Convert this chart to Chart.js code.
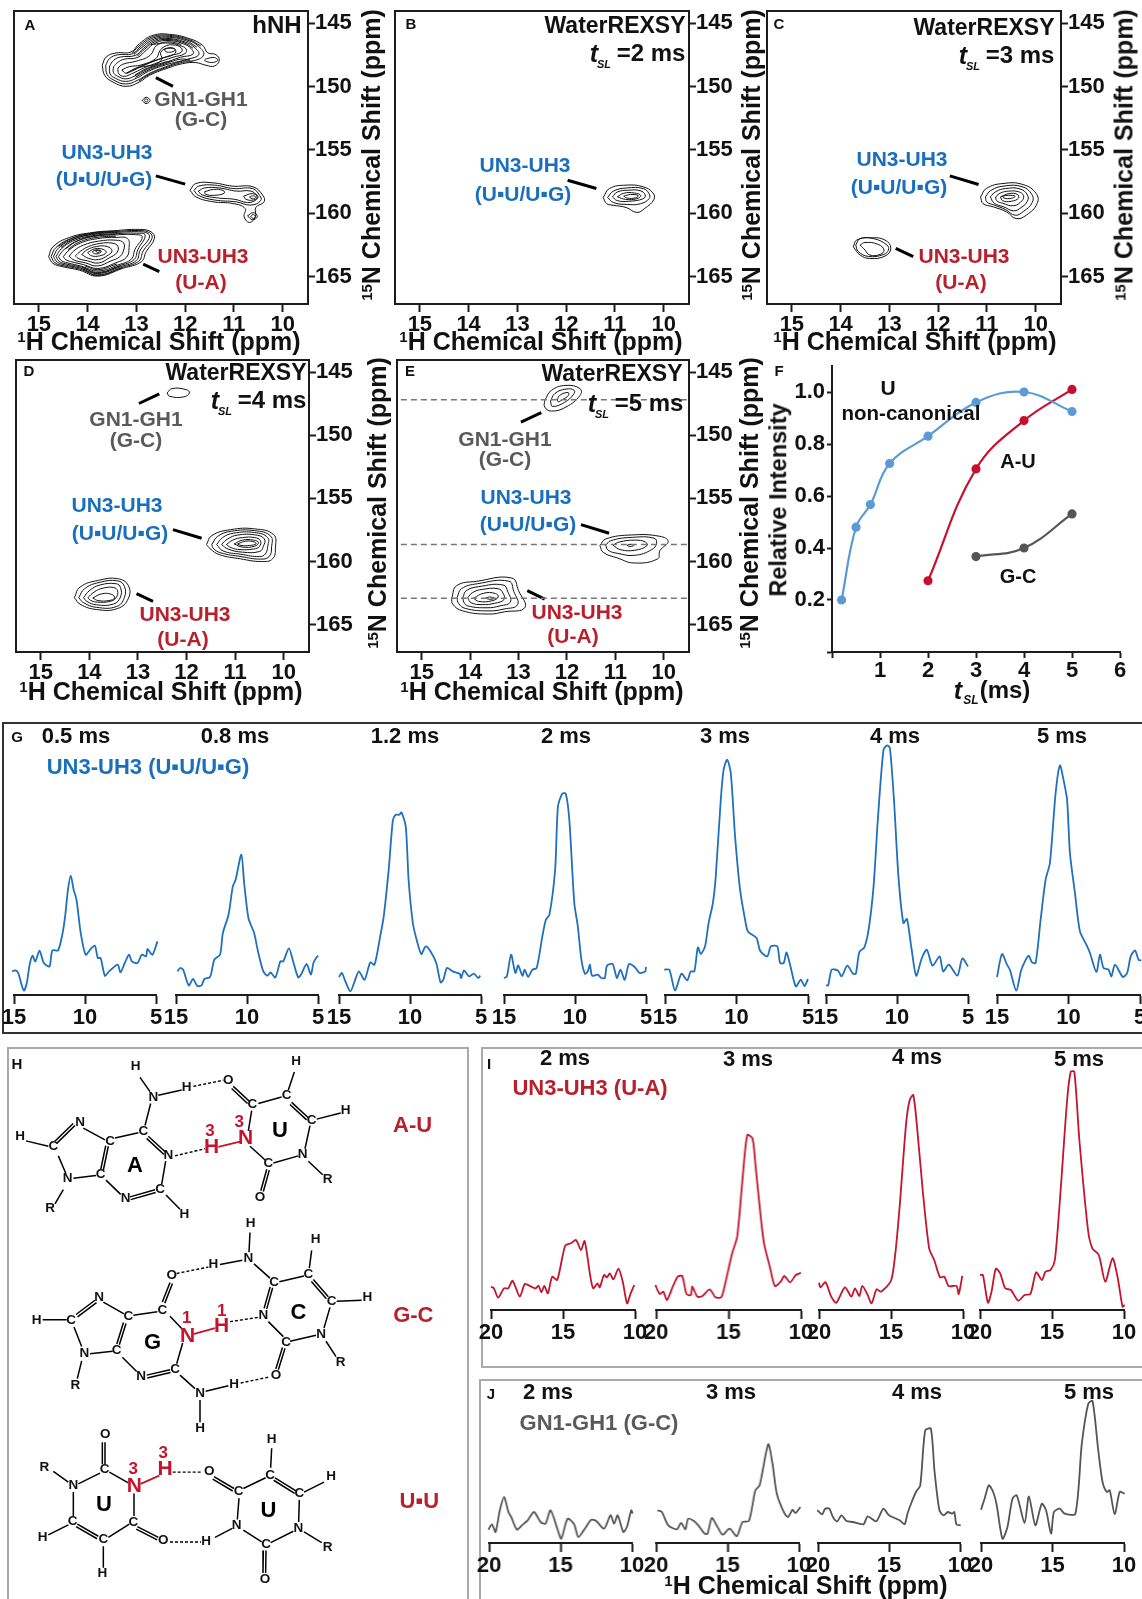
<!DOCTYPE html>
<html>
<head>
<meta charset="utf-8">
<title>WaterREXSY</title>
<script src="https://cdn.jsdelivr.net/npm/chart.js@4/dist/chart.umd.min.js"></script>
<style>
html, body { margin: 0; padding: 0; background: #fff; }
body { position: relative; width: 1142px; height: 1599px; overflow: hidden; font-family: "Liberation Sans", Arial, sans-serif; }
canvas { position: absolute; }
.t { position: absolute; white-space: nowrap; font-weight: bold; line-height: 1; color: #111; transform: translate(-50%, -50%); }
.t sup { font-size: .6em; line-height: 0; vertical-align: .5em; }
.box { position: absolute; box-sizing: border-box; }
</style>
</head>
<body>
<script>
// Panel F: relative intensity against spin-lock time
const tslBlue = [0.2, 0.5, 0.8, 1.2, 2, 3, 4, 5];
const intBlue = [0.2, 0.48, 0.567, 0.725, 0.83, 0.96, 1.0, 0.925];
const tslRed = [2, 3, 4, 5];
const intRed = [0.274, 0.704, 0.89, 1.01];
const tslGray = [3, 4, 5];
const intGray = [0.367, 0.40, 0.531];

const ppmTicksH = [15, 14, 13, 12, 11, 10];
const ppmTicksN = [145, 150, 155, 160, 165];

// Contours, [1H ppm, 15N ppm]
const contA_GC = [
  [[13.70,148.33],[13.62,147.68],[13.42,147.36],[13.11,147.28],[12.94,146.63],[12.66,145.97],[12.32,145.89],[11.91,146.23],[11.64,146.76],[11.54,147.34],[11.37,147.49],[11.30,147.94],[11.40,148.39],[11.57,148.33],[11.78,148.12],[12.05,148.20],[12.39,148.60],[12.73,149.12],[12.94,149.65],[13.21,149.99],[13.48,149.65],[13.65,149.12]],
  [[13.63,148.35],[13.55,147.8],[13.38,147.5],[13.08,147.42],[12.9,146.8],[12.64,146.15],[12.32,146.05],[11.95,146.35],[11.72,146.85],[11.62,147.5],[11.8,147.95],[12.05,148.0],[12.4,148.45],[12.75,149.0],[12.97,149.5],[13.22,149.8],[13.46,149.5],[13.6,149.05]],
  [[13.55,148.4],[13.47,147.95],[13.33,147.68],[13.02,147.55],[12.85,146.98],[12.62,146.35],[12.33,146.22],[12.0,146.5],[11.8,146.95],[11.72,147.5],[11.95,147.85],[12.4,148.3],[12.75,148.8],[13.0,149.35],[13.22,149.6],[13.43,149.35],[13.54,149.0]],
  [[13.47,148.45],[13.38,148.1],[13.25,147.85],[12.98,147.72],[12.8,147.15],[12.6,146.55],[12.33,146.38],[12.05,146.62],[11.88,147.0],[11.84,147.45],[12.1,147.7],[12.42,148.15],[12.78,148.65],[13.05,149.2],[13.22,149.4],[13.38,149.2],[13.47,148.9]],
  [[13.38,148.55],[13.28,148.25],[13.0,148.0],[12.72,147.55],[12.58,146.75],[12.33,146.58],[12.12,146.75],[11.98,147.05],[12.0,147.4],[12.25,147.7],[12.55,148.1],[12.85,148.55],[13.1,149.0],[13.25,149.2],[13.36,149.0]],
  [[13.3,148.7],[13.15,148.45],[12.9,148.3],[12.6,147.8],[12.52,147.2],[12.42,146.85],[12.25,146.72],[12.08,146.95],[12.08,147.3],[12.3,147.55],[12.6,147.95],[12.85,148.35],[13.1,148.8],[13.22,148.95]],
  [[13.2,148.95],[13.0,148.55],[12.8,148.4],[12.6,148.25],[12.48,147.85],[12.5,147.3],[12.33,146.95],[12.2,147.1],[12.22,147.45],[12.5,147.8],[12.75,148.15],[13,148.55]],
  [[12.42,147.05],[12.3,146.98],[12.2,147.1],[12.28,147.28],[12.4,147.25]],
  [[11.5,147.75],[11.4,147.72],[11.33,147.92],[11.42,148.1],[11.55,148.05],[11.6,147.9]],
  [[12.88,151.1],[12.8,150.85],[12.72,151.1],[12.8,151.35]],
  [[12.84,151.1],[12.8,150.98],[12.76,151.1],[12.8,151.22]]
];
const arcsA_GC = [
  [[13.08,147.35],[12.92,146.72],[12.65,146.06],[12.32,145.97],[11.93,146.29],[11.68,146.8]],
  [[13.05,147.48],[12.88,146.9],[12.63,146.25],[12.32,146.13],[11.97,146.42],[11.76,146.9]],
  [[12.98,147.62],[12.83,147.06],[12.61,146.45],[12.33,146.3],[12.02,146.56],[11.84,146.98]],
  [[12.7,146.7],[12.59,146.65],[12.33,146.48],[12.08,146.68]],
  [[11.85,148.05],[12.05,148.1],[12.4,148.52],[12.74,149.06],[12.95,149.58]],
  [[11.9,147.9],[12.1,147.85],[12.41,148.22],[12.76,148.72],[13.02,149.28]],
  [[12.3,148],[12.43,148.1],[12.8,148.6],[13.03,149.1]]
];
const contA_UU = [
  [[11.9,158.18],[11.78,157.65],[11.43,157.6],[11.02,157.86],[10.61,157.91],[10.41,158.57],[10.38,159.09],[10.55,159.54],[10.56,160.28],[10.68,160.72],[10.79,160.28],[10.77,159.62],[11.02,159.23],[11.43,159.09],[11.78,158.7]],
  [[11.82,158.2],[11.72,157.85],[11.4,157.78],[11,158.05],[10.62,158.05],[10.47,158.6],[10.45,159],[10.65,159.35],[10.95,159.1],[11.4,158.95],[11.72,158.6]],
  [[11.73,158.25],[11.6,158],[11.3,158],[10.95,158.25],[10.65,158.25],[10.53,158.65],[10.55,158.95],[10.72,159.15],[10.98,158.9],[11.35,158.78],[11.65,158.55]],
  [[11.6,158.3],[11.42,158.12],[11.22,158.2],[11.2,158.42],[11.4,158.58],[11.58,158.5]],
  [[10.8,158.65],[10.62,158.45],[10.5,158.7],[10.6,158.95],[10.75,158.9]],
  [[10.68,158.72],[10.6,158.62],[10.55,158.75],[10.62,158.85]],
  [[10.72,160.2],[10.6,159.95],[10.52,160.25],[10.62,160.5]],
  [[10.66,160.25],[10.6,160.1],[10.56,160.25],[10.6,160.4]]
];
const contA_UA = [
  [[14.8,163.42],[14.71,162.64],[14.37,161.9],[13.89,161.51],[13.48,161.38],[12.94,161.27],[12.7,161.46],[12.63,161.98],[12.8,163.03],[12.9,163.82],[13.28,164.34],[13.79,164.95],[14.17,164.48],[14.51,164.21],[14.71,163.95]],
  [[14.75,163.42],[14.65,162.7],[14.33,161.98],[13.87,161.58],[13.46,161.45],[12.95,161.36],[12.73,161.53],[12.68,161.98],[12.86,162.96],[12.95,163.77],[13.3,164.27],[13.79,164.85],[14.16,164.4],[14.5,164.13],[14.67,163.9]],
  [[14.7,163.42],[14.6,162.75],[14.3,162.05],[13.85,161.65],[13.45,161.52],[12.96,161.45],[12.76,161.6],[12.74,161.98],[12.92,162.9],[13.0,163.72],[13.32,164.2],[13.79,164.75],[14.15,164.32],[14.48,164.05],[14.62,163.85]],
  [[14.65,163.42],[14.54,162.8],[14.26,162.12],[13.84,161.73],[13.44,161.61],[13.0,161.57],[12.82,161.72],[12.97,162.88],[13.05,163.66],[13.34,164.12],[13.79,164.65],[14.13,164.25],[14.45,163.98],[14.58,163.8]],
  [[14.6,163.42],[14.48,162.85],[14.22,162.2],[13.82,161.8],[13.42,161.7],[13.05,161.68],[12.88,161.85],[13.03,162.85],[13.1,163.6],[13.36,164.05],[13.79,164.55],[14.12,164.18],[14.42,163.9],[14.53,163.75]],
  [[14.5,163.42],[14.38,162.9],[14.15,162.35],[13.8,162],[13.4,161.9],[13.18,162.0],[13.15,162.7],[13.2,163.45],[13.42,163.9],[13.79,164.35],[14.08,164.05],[14.35,163.8],[14.45,163.65]],
  [[14.38,163.4],[14.28,162.95],[14.08,162.5],[13.78,162.2],[13.42,162.12],[13.26,162.35],[13.27,163.0],[13.35,163.45],[13.52,163.75],[13.8,164.15],[14.05,163.9],[14.27,163.7]],
  [[14.25,163.35],[14.15,163],[13.98,162.62],[13.75,162.38],[13.5,162.35],[13.38,162.6],[13.4,163.1],[13.55,163.5],[13.78,163.92],[14.0,163.75],[14.18,163.58]],
  [[14.12,163.25],[14.02,162.9],[13.82,162.62],[13.6,162.62],[13.5,162.95],[13.58,163.3],[13.78,163.65],[13.98,163.55]],
  [[14.0,163.1],[13.85,162.8],[13.68,162.85],[13.62,163.1],[13.75,163.35],[13.92,163.35]],
  [[13.9,163.0],[13.8,162.88],[13.72,163.0],[13.78,163.18],[13.88,163.15]],
  [[13.84,162.95],[13.78,162.92],[13.74,163],[13.8,163.08]]
];
const arcsA_UA = [
  [[14.6,162.6],[14.3,161.93],[13.88,161.54],[13.47,161.41]],
  [[14.55,162.7],[14.27,162.02],[13.86,161.62],[13.45,161.49]],
  [[14.45,162.8],[14.2,162.15],[13.83,161.77],[13.43,161.66]],
  [[14.4,162.85],[14.18,162.28],[13.81,161.9],[13.42,161.8]],
  [[14.1,164.42],[13.79,164.9],[13.29,164.3]],
  [[14.1,164.28],[13.79,164.7],[13.33,164.16]],
  [[14.05,164.15],[13.79,164.45],[13.4,164.0]]
];
const contB_UU = [
  [[11.24,158.75],[11.11,158.04],[10.77,157.78],[10.42,157.91],[10.22,158.39],[10.2,158.91],[10.39,159.62],[10.55,159.93],[10.77,159.54],[11.04,159.36],[11.17,159.23]],
  [[11.15,158.75],[11.03,158.25],[10.75,158],[10.42,158.05],[10.3,158.45],[10.3,158.85],[10.48,159.25],[10.75,159.3],[11.03,159.15]],
  [[11.05,158.7],[10.95,158.32],[10.72,158.18],[10.48,158.22],[10.38,158.55],[10.42,158.85],[10.72,159.05],[10.95,159]],
  [[10.95,158.7],[10.82,158.42],[10.6,158.4],[10.47,158.6],[10.55,158.85],[10.78,158.9]],
  [[10.82,158.65],[10.68,158.52],[10.52,158.6],[10.58,158.78],[10.75,158.8]]
];
const contC_UU = [
  [[11.13,158.7],[11.01,158.04],[10.67,157.65],[10.26,157.73],[9.99,158.44],[9.97,159.23],[10.19,160.14],[10.4,160.41],[10.6,159.88],[10.87,159.49],[11.08,159.23]],
  [[11.03,158.7],[10.92,158.2],[10.65,157.85],[10.28,157.9],[10.08,158.5],[10.07,159.15],[10.25,159.85],[10.42,160.15],[10.62,159.7],[10.85,159.35],[11.0,159.1]],
  [[10.93,158.7],[10.82,158.3],[10.62,158.05],[10.32,158.08],[10.17,158.55],[10.17,159.05],[10.3,159.55],[10.45,159.8],[10.65,159.5],[10.85,159.2]],
  [[10.82,158.7],[10.72,158.4],[10.55,158.25],[10.35,158.3],[10.25,158.6],[10.28,159],[10.45,159.4],[10.68,159.2],[10.8,159]],
  [[10.72,158.7],[10.55,158.45],[10.38,158.5],[10.35,158.8],[10.5,159.05],[10.68,159]],
  [[10.68,158.65],[10.55,158.58],[10.42,158.65],[10.5,158.82],[10.65,158.8]]
];
const contC_UA = [
  [[13.74,162.64],[13.67,162.11],[13.4,161.93],[13.09,162.11],[12.97,162.77],[13.09,163.37],[13.4,163.56],[13.6,163.29]],
  [[13.69,162.5],[13.6,162],[13.32,162],[13.05,162.5],[13.02,162.9],[13.12,163.25],[13.43,163.4],[13.64,163.0]],
  [[13.6,162.5],[13.5,162.3],[13.23,162.45],[13.11,162.9],[13.19,163.24],[13.4,163.29],[13.5,162.9]]
];
const contD_GC = [
  [[12.4,146.65],[12.3,146.31],[12.01,146.39],[11.94,146.65],[12.06,146.97],[12.35,146.92]]
];
const contD_UU = [
  [[11.59,158.65],[11.48,157.94],[11.09,157.47],[10.6,157.41],[10.21,157.86],[10.17,158.86],[10.23,159.78],[10.46,159.99],[10.89,159.78],[11.33,159.44],[11.52,158.96]],
  [[11.48,158.65],[11.36,158],[11.08,157.6],[10.6,157.55],[10.27,157.98],[10.25,158.85],[10.3,159.6],[10.48,159.8],[10.88,159.6],[11.3,159.3],[11.45,158.95]],
  [[11.38,158.65],[11.26,158.1],[11.03,157.75],[10.6,157.7],[10.33,158.1],[10.33,158.8],[10.38,159.4],[10.5,159.6],[10.88,159.42],[11.25,159.15]],
  [[11.28,158.65],[11.15,158.2],[10.95,157.9],[10.6,157.88],[10.4,158.2],[10.42,158.8],[10.5,159.2],[10.85,159.25],[11.15,159.0]],
  [[11.18,158.65],[11.05,158.3],[10.85,158.1],[10.6,158.1],[10.48,158.35],[10.5,158.8],[10.62,159.0],[10.9,159.05],[11.08,158.9]],
  [[11.02,158.6],[10.85,158.3],[10.62,158.3],[10.52,158.5],[10.6,158.78],[10.85,158.85]],
  [[10.95,158.6],[10.78,158.38],[10.6,158.45],[10.57,158.6],[10.7,158.72],[10.88,158.72]]
];
const contD_UA = [
  [[14.31,162.85],[14.19,162.01],[13.81,161.48],[13.42,161.35],[13.2,161.88],[13.2,162.93],[13.42,163.71],[13.85,163.79],[14.19,163.37]],
  [[14.22,162.85],[14.1,162.15],[13.8,161.65],[13.42,161.52],[13.28,161.95],[13.28,162.85],[13.44,163.55],[13.85,163.62],[14.12,163.25]],
  [[14.12,162.85],[14.0,162.3],[13.78,161.85],[13.45,161.75],[13.36,162.05],[13.36,162.8],[13.5,163.35],[13.85,163.42],[14.05,163.15]],
  [[14.03,162.85],[13.9,162.4],[13.72,162.1],[13.5,162.05],[13.42,162.3],[13.45,162.85],[13.58,163.15],[13.85,163.2],[13.98,163.05]],
  [[13.93,162.88],[13.75,162.55],[13.55,162.58],[13.48,162.88],[13.6,163.08],[13.82,163.08]]
];
const contE_GC = [
  [[12.46,147.25],[12.32,146.45],[12.02,146.06],[11.73,146.32],[11.73,146.85],[12.02,147.77],[12.32,148.09],[12.46,147.77]],
  [[12.34,147.3],[12.25,146.7],[12.02,146.35],[11.85,146.45],[11.87,146.8],[12.05,147.4],[12.3,147.72]],
  [[12.2,147.2],[12.15,146.85],[11.98,146.62],[11.97,146.85],[12.1,147.2],[12.18,147.35]]
];
const contE_UU = [
  [[11.32,158.74],[11.2,158.21],[10.66,157.89],[10.08,158],[9.91,158.4],[10.08,159.13],[10.13,159.79],[10.61,160.11],[10.95,159.72],[11.25,159.27]],
  [[11.2,158.72],[11.1,158.35],[10.65,158.08],[10.2,158.15],[10.15,158.55],[10.25,159.05],[10.6,159.5],[10.95,159.35],[11.15,159.1]],
  [[11.05,158.7],[10.92,158.45],[10.6,158.3],[10.38,158.45],[10.35,158.75],[10.6,159.1],[10.9,159.05]],
  [[10.76,158.72],[10.7,158.63],[10.62,158.72],[10.7,158.8]]
];
const contE_UA = [
  [[14.38,162.89],[14.28,161.91],[13.87,161.56],[13.14,161.3],[13,162.3],[12.87,163.63],[13.29,163.97],[13.63,164.15],[14.16,163.89],[14.36,163.36]],
  [[14.27,162.85],[14.18,162.15],[13.85,161.75],[13.2,161.55],[13.1,162.35],[13.02,163.4],[13.3,163.75],[13.63,163.9],[14.1,163.7],[14.24,163.3]],
  [[14.15,162.85],[14.08,162.3],[13.82,161.98],[13.32,161.85],[13.22,162.4],[13.17,163.2],[13.38,163.5],[13.65,163.65],[14.05,163.5],[14.13,163.2]],
  [[14.05,162.85],[13.95,162.45],[13.75,162.2],[13.42,162.15],[13.32,162.5],[13.3,163],[13.5,163.3],[13.75,163.4],[13.98,163.25]],
  [[13.93,162.9],[13.72,162.5],[13.48,162.52],[13.42,162.8],[13.55,163.1],[13.82,163.15]],
  [[13.68,162.88],[13.6,162.8],[13.5,162.9],[13.6,162.98]]
];

// Leader lines, [1H, 15N, 1H, 15N]
const leadersA = [[12.6,149.3,12.25,149.99],[12.6,157.05,12.0,157.7],[12.86,164,12.53,164.6]];
const leadersB = [[11.97,157.39,11.38,158.04]];
const leadersC = [[11.76,157.05,11.17,157.73],[12.87,162.77,12.51,163.42]];
const leadersD = [[12.98,147.49,12.56,146.73],[12.28,157.47,11.69,158.15],[13.03,162.53,12.69,163.14]];
const leadersE = [[12.95,148.96,12.53,148.22],[11.71,157.07,11.13,157.76],[12.82,162.3,12.46,162.97]];
const dashedE = [147.2, 158.65, 162.9];

// Panel G spectra: ppm, intensity
const g05Ppm = [15.13,14.9,14.7,14.5,14.3,14.1,13.9,13.7,13.5,13.2,12.9,12.5,12.3,11.9,11.6,11.4,11.2,11.0,10.8,10.6,10.3,9.95,9.6,9.3,9.1,8.9,8.6,8.3,7.7,7.5,7.2,6.9,6.7,6.3,6.0,5.7,5.6,5.25,4.9];
const g05Int = [23.6,24.6,22,12,4.3,12,30.3,39.3,33.6,44.3,32,28.6,44.6,44.6,60.3,78.6,105.3,119.3,105.3,95.3,62,40.3,46,49.3,37,37,19.3,23.6,30.3,22.6,32,40.3,33.6,32,40.3,38.6,46,40.3,53.6];
const g08Ppm = [14.9,14.7,14.5,14.1,13.8,13.5,13.2,13,12.6,12.3,11.9,11.7,11.3,11,10.8,10.4,10.2,9.9,9.5,9.2,8.85,8.55,8.35,8,7.65,7.45,7.05,6.75,6.4,6.2,5.8,5.5,5.3,5.0];
const g08Int = [23.6,27,25.3,9.6,16,9,9.6,16,18,35.3,40.3,62,80.3,108.6,115.3,140.3,112,77,62,42,23.6,19.3,22.6,17.6,33.6,33.6,46.6,33.6,17.6,20.3,31,20.3,33,39.6];
const g12Ppm = [15,14.8,14.55,14.2,13.9,13.6,13.2,12.8,12.5,12.1,11.85,11.5,11.2,11,10.75,10.6,10.3,10.1,9.8,9.5,9.2,8.9,8.55,8.15,7.85,7.65,7.4,7,6.5,6.4,6.2,5.85,5.5,5.2,5.05];
const g12Int = [18,22,13.6,3.6,13.6,23.6,15.3,32.6,30.3,58.6,78.6,125.3,175.3,180.3,180.3,182.6,168.6,115.3,72,53.6,41,48.6,43.6,32,12.6,15.3,27,23.6,21.3,17,24.6,18.6,21.3,17,19.3];
const g2Ppm = [15,14.8,14.5,14.2,14,13.7,13.55,13.3,13,12.7,12.3,12.05,11.8,11.4,11.2,10.9,10.65,10.4,10.05,9.8,9.55,9.3,9.1,8.95,8.8,8.4,8.15,7.9,7.75,7.35,7.05,6.8,6.5,6.2,5.8,5.45,5.05,5];
const g2Int = [17,18.6,40.3,22,29.6,19.3,25.3,18,25.3,27,58.6,75.3,80.3,125.3,188.6,201.3,201.3,175.3,92,68.6,35.3,21.3,23.6,30.3,19.3,20.3,17,17,29.3,31,17,25.3,15.3,31,28,22,23.6,28];
const g3Ppm = [15.05,14.7,14.3,13.85,13.45,13.2,12.95,12.7,12.5,12.2,11.95,11.65,11.45,11.1,10.9,10.65,10.4,10.1,9.75,9.4,9.2,8.6,8.35,7.85,7.6,7.15,6.95,6.7,6.5,6.2,5.85,5.5,5.25,5];
const g3Int = [25.3,25.3,4.6,21.3,14.6,23.6,23.6,47.6,41,48.6,72,92,118.6,195.3,225.3,235.3,222,158.6,105.3,75.3,63.6,57,44.3,38.6,48.6,48.6,32,32,42.6,27,8.6,15.3,9,16];
const g4Ppm = [15,14.85,14.6,14.15,13.9,13.5,13.1,12.9,12.65,12.3,12,11.65,11.35,10.95,10.7,10.5,10.2,9.9,9.55,9.3,9,8.65,8.25,7.9,7.5,7,6.75,6.35,5.75,5.4,5];
const g4Int = [9.6,9.6,25.3,24.3,18.6,29.3,21.3,21.3,43,47.6,65.3,108.6,175.3,245.3,249.6,247,192,118.6,72,76,48.6,19.3,37,45.3,29.3,38.6,23.6,30.3,19.3,36.6,28.6];
const g5Ppm = [15,14.65,14.3,14.1,13.65,13.3,12.8,12.55,12.3,11.95,11.6,11.3,10.9,10.6,10.35,10.1,9.9,9.55,9.2,8.75,8.5,8.05,7.8,7.55,7.2,7,6.75,6.2,5.9,5.65,5.35,5.1,4.9];
const g5Int = [18,41,30.3,25.3,4.3,25.3,39.3,32.6,32,75.3,115.3,132,202,229.6,215.3,195.3,142,102,63.6,50.3,42,23,40.3,27,25.3,18.6,30.3,18,22,38.6,44.6,35.3,34.6];

// Panel I spectra
const i2Ppm = [20,19.8,19.5,19.1,18.8,18.5,18,17.65,17.2,16.9,16.7,16.5,16.3,16.05,15.75,15.4,14.85,14.45,14.1,13.75,13.5,13.1,12.9,12.6,12.45,12.15,11.95,11.75,11.5,11.15,10.85,10.55,10.3,10.05];
const i2Int = [23.3,21.7,12.3,21.7,21.7,29.3,13.3,26,23.3,21.7,24.3,17.7,24,16.7,33.3,30,64.3,66.7,70,60,69,33.3,21.7,26.7,22.7,35,32.7,36.7,30.7,41.3,28.3,6.7,16.7,25];
const i3Ppm = [20.05,19.75,19.5,19.25,18.85,18.5,18.2,17.9,17.6,17.5,17.15,16.8,16.3,15.9,15.5,15.2,14.75,14.4,14,13.7,13.35,13.15,12.85,12.55,12.15,11.8,11.4,11.15,10.75,10.35,10];
const i3Int = [25,16,18.3,10,23.3,33.3,34,16,15,23.3,13.3,14,20.7,12.7,12.7,28.3,56.7,73.3,136.7,175,171.7,146.7,103.3,66.7,43.3,24,28.3,34,27.7,35,37.3];
const i4Ppm = [20,19.9,19.55,19.15,18.8,18.2,17.75,17.5,17.2,17,16.65,16.35,16,15.7,15,14.7,14.4,13.95,13.7,13.45,13.15,12.8,12.35,12,11.6,11.3,11,10.45,10.3,10.05];
const i4Int = [27.3,22.7,27.7,13.3,7.3,22.7,13.3,21.7,14,24,16,6.7,20.7,18.3,29.3,56.7,103.3,186.7,210,215,176.7,120,61.7,50,32.7,33.3,24,24,16,34];
const i5Ppm = [20,19.8,19.45,19.2,18.9,18.6,18.25,17.85,17.35,16.9,16.5,16.1,15.7,15.45,15.1,14.8,14.4,13.95,13.7,13.45,13.1,12.5,12.2,11.75,11.3,10.8,10.45,10.1,9.95];
const i5Int = [35,35,7.3,18.3,41.3,36.7,21.7,20,9.3,15,16,37.7,30,38.3,40,50,120,210,238.3,238.3,170,80,61.7,55,28.3,51.7,33.3,3.3,5];

// Panel J spectra
const j2Ppm = [20.05,19.8,19.55,19.25,18.95,18.65,18.45,18.05,17.7,17.3,16.85,16.4,16.05,15.7,15.2,14.95,14.5,14.05,13.75,13.25,12.85,12.5,11.95,11.5,11.25,11,10.6,10.35,10.05,9.95];
const j2Int = [13.3,18.7,11,32.7,46,31,26,13.3,17.7,22.7,31,21,19.3,32.7,13.3,4.3,24.3,18.7,6,15.3,23.3,22,14.3,27.7,19.3,27.7,11,16,32.7,29.3];
const j3Ppm = [19.9,19.6,19.15,18.55,18.25,17.95,17.75,17.35,17.05,16.6,16.4,16.1,15.7,15.35,14.85,14.35,13.95,13.5,13.05,12.75,12.15,11.85,11.55,11,10.75,10.45,10.25,9.9];
const j3Int = [32.7,31,17.7,13.7,20,13.7,24.3,22,17.7,9.3,9.3,25,16,8.3,14.3,6.7,21,22,52.7,57.7,98.7,79.3,49.3,29.3,26,33.3,30,36];
const j4Ppm = [20.05,19.7,19.5,19.2,18.95,18.65,18.35,18,17.55,16.8,16.5,15.9,15.4,15,14.25,13.9,13.7,13.4,13.1,12.8,12.45,12.05,11.8,11.45,11.15,10.85,10.55,10.4,10.25,9.95];
const j4Int = [32.7,28.7,34.3,34.3,26,21.7,27.7,22,21,18.7,26.7,21.7,34.3,27.7,22.7,18.7,29.3,41,51,57.7,112.7,114.3,72.7,32.7,27.7,31,29.3,31,18.7,17.7];
const j5Ppm = [20,19.75,19.45,19.15,18.9,18.5,18.15,17.8,17.5,16.95,16.65,16.2,15.75,15.45,15.1,14.9,14.5,14.15,13.4,12.95,12.5,12.2,11.8,11.5,11.2,11,10.65,10.3,9.95];
const j5Int = [33.3,44.3,57.7,51,37.7,4.3,16,44.3,47.7,20,46.7,17.7,39.3,32.7,9.3,31,34.3,29.3,29.3,99.3,139.3,142,92.7,61,51,52.7,28.7,51,49.3];

// Panel H base pair diagrams, drawn on a 1440 x 1568 grid
const bonds = [
  [420,105,450,145],[475,155,545,140],[775,178,845,160],[865,140,883,90],[950,222,1022,205],[930,240,915,305],[755,198,745,255],[750,298,797,338],[820,345,895,325],[925,340,968,378],
  [452,178,435,240],[345,275,415,260],[250,247,315,280],[78,283,145,298],[175,325,198,375],[220,388,288,380],[318,393,362,433],[497,340,485,405],[498,435,540,475],[190,420,165,460],
  [750,540,747,595],[935,590,928,640],[660,630,727,618],[762,628,810,668],[838,678,912,662],[1010,733,1085,730],[990,750,972,808],[805,790,850,832],[870,845,948,828],[978,845,1008,888],
  [400,772,472,762],[510,775,548,812],[548,850,530,908],[310,735,372,768],[128,785,200,785],[222,805,245,860],[270,880,338,873],[367,890,410,930],[540,940,585,978],[617,985,685,970],[600,1010,600,1072],[245,900,232,950],
  [160,1210,205,1240],[235,1245,300,1215],[328,1212,385,1242],[730,1258,797,1228],[812,1200,815,1145],[912,1268,972,1240],[898,1290,896,1352],[717,1285,712,1345],[730,1375,785,1408],[812,1410,880,1378],[912,1380,965,1410],[645,1395,697,1370],[402,1272,402,1335],[220,1268,220,1335],[325,1395,388,1358],[145,1388,205,1360],[310,1420,310,1480]
];
const doubleBonds = [
  [700,130,748,172],[875,175,925,218],[808,365,790,425],[225,240,170,290],[325,298,310,365],[390,440,465,420],[445,270,497,315],
  [940,672,985,720],[818,695,800,755],[855,865,835,925],[487,735,510,680],[228,770,285,730],[378,795,358,855],[440,940,510,925],
  [315,1128,315,1190],[642,1225,702,1258],[825,1228,888,1265],[798,1432,797,1495],[412,1365,475,1395],[232,1358,295,1392]
];
const hBonds = [
  [580,130,670,113],[525,325,615,305],[530,655,625,637],[690,790,775,778],[722,962,810,945],[518,1212,605,1212],[510,1408,603,1408]
];
const redBonds = [[655,300,720,285],[580,825,645,808],[422,1245,478,1222]];
const atoms = [
  ['H',407,75],['N',460,160],['H',560,133],['O',685,112],['H',888,60],['C',860,155],['C',757,180],['C',935,225],['H',1037,198],['C',430,257],['N',240,232],['C',330,283],['C',160,298],['H',60,270],['N',505,323],['C',302,378],['N',203,388],['R',150,472],['N',377,445],['C',480,420],['H',553,488],['C',805,347],['N',908,320],['R',983,390],['O',780,440],
  ['H',752,515],['H',947,560],['N',745,613],['H',640,630],['O',515,660],['C',822,680],['C',925,658],['C',995,733],['H',1102,722],['N',297,722],['C',487,757],['C',385,775],['C',213,785],['H',110,785],['N',790,772],['C',858,847],['N',963,825],['R',1022,905],['N',253,878],['C',350,870],['R',226,968],['N',423,942],['C',525,925],['O',828,940],['H',702,965],['N',600,990],['H',600,1088],
  ['O',316,1105],['C',314,1203],['R',133,1198],['N',220,1250],['O',628,1210],['C',716,1265],['C',810,1220],['H',815,1120],['C',898,1272],['H',993,1225],['C',218,1350],['C',310,1400],['C',400,1352],['H',128,1395],['H',307,1497],['O',490,1403],['H',618,1405],['N',710,1360],['C',798,1415],['N',895,1370],['R',983,1422],['O',795,1512]
];
const bases = [['U',840,255],['A',405,352],['C',895,765],['G',458,850],['U',312,1305],['U',805,1320]];
const redAtoms = [['H',635,300],['N',737,275],['N',563,830],['H',665,803],['N',403,1252],['H',495,1205]];
const redDigits = [['3',630,257],['3',718,232],['1',560,780],['1',665,760],['3',400,1205],['3',490,1158]];
const pairNames = [['A-U',1238,240],['G-C',1240,773],['U\u25AAU',1258,1295]];

const INK = '#1c1c1c';
const BLUE = '#1a6fbd';
const RED = '#b8202c';
const GRAY = '#5a5a5a';
const TRACE_BLUE = '#1f70bd';
const TRACE_RED = '#c4142e';
const TRACE_GRAY = '#555555';
const FONT = '"Liberation Sans", Arial, sans-serif';

Chart.defaults.font.family = FONT;
Chart.defaults.animation = false;
Chart.defaults.plugins.legend.display = false;
Chart.defaults.plugins.tooltip.enabled = false;

function addCanvas(left, top, w, h) {
    const c = document.createElement('canvas');
    c.width = w;
    c.height = h;
    c.style.left = left + 'px';
    c.style.top = top + 'px';
    c.style.width = w + 'px';
    c.style.height = h + 'px';
    document.body.appendChild(c);
    return c;
}

function addText(html, cx, cy, size, color, opts) {
    opts = opts || {};
    const d = document.createElement('div');
    d.className = 't';
    d.innerHTML = html;
    d.style.left = cx + 'px';
    d.style.top = cy + 'px';
    d.style.fontSize = size + 'px';
    if (color) d.style.color = color;
    if (opts.italic) d.style.fontStyle = 'italic';
    let tr = 'translate(-50%, -50%)';
    if (opts.rotate) tr += ' rotate(' + opts.rotate + 'deg)';
    d.style.transform = tr;
    document.body.appendChild(d);
}

function addBox(left, top, w, h, color) {
    const d = document.createElement('div');
    d.className = 'box';
    d.style.cssText = 'left:' + left + 'px;top:' + top + 'px;width:' + w + 'px;height:' + h + 'px;border:2px solid ' + color;
    document.body.appendChild(d);
}

const framePlugin = {
    id: 'frame',
    afterDatasetsDraw(chart) {
        const a = chart.chartArea, ctx = chart.ctx;
        ctx.save();
        ctx.strokeStyle = INK;
        ctx.lineWidth = 2;
        ctx.strokeRect(a.left, a.top, a.right - a.left, a.bottom - a.top);
        ctx.restore();
    }
};

function contourSets(list, closed) {
    return list.map(c => ({
        data: (closed ? c.concat([c[0]]) : c).map(p => ({ x: p[0], y: p[1] })),
        borderColor: '#111',
        borderWidth: 1,
        pointRadius: 0,
        tension: 0.45,
        clip: false
    }));
}

function segmentSets(list, width) {
    return list.map(s => ({
        data: [{ x: s[0], y: s[1] }, { x: s[2], y: s[3] }],
        borderColor: '#000',
        borderWidth: width,
        pointRadius: 0
    }));
}

// one 2D spectrum, frame given in page pixels
function hsqc(l, t, r, b, contours, leaders, dashed, arcs) {
    const padL = 3, padT = 15, axisR = 52, axisB = 36;
    const canvas = addCanvas(l - padL, t - padT, r - l + padL + axisR, b - t + padT + axisB);
    let sets = [];
    (dashed || []).forEach(y => {
        sets.push({
            data: [{ x: 15.43, y: y }, { x: 9.48, y: y }],
            borderColor: '#777', borderWidth: 1.6, borderDash: [6, 4], pointRadius: 0
        });
    });
    contours.forEach(c => { sets = sets.concat(contourSets(c, true)); });
    (arcs || []).forEach(c => { sets = sets.concat(contourSets(c, false)); });
    sets = sets.concat(segmentSets(leaders, 3));
    new Chart(canvas, {
        type: 'line',
        data: { datasets: sets },
        options: {
            responsive: false,
            layout: { padding: { left: padL, top: padT, right: 0, bottom: 0 } },
            scales: {
                x: {
                    type: 'linear', min: 9.48, max: 15.51, reverse: true,
                    afterBuildTicks: s => { s.ticks = ppmTicksH.map(v => ({ value: v })); },
                    afterFit: s => { s.height = axisB; },
                    grid: { drawOnChartArea: false, tickLength: 8, tickColor: INK, tickWidth: 2 },
                    border: { color: INK, width: 2 },
                    ticks: { color: '#111', font: { size: 22, weight: 'bold' }, maxRotation: 0, autoSkip: false, padding: 0, callback: v => String(v) }
                },
                y: {
                    type: 'linear', position: 'right', min: 144.05, max: 167.15, reverse: true,
                    afterBuildTicks: s => { s.ticks = ppmTicksN.map(v => ({ value: v })); },
                    afterFit: s => { s.width = axisR; },
                    grid: { drawOnChartArea: false, tickLength: 7, tickColor: INK, tickWidth: 2 },
                    border: { color: INK, width: 2 },
                    ticks: { color: '#111', font: { size: 22, weight: 'bold' }, autoSkip: false, padding: 0, callback: v => String(v) }
                }
            }
        },
        plugins: [framePlugin]
    });
}

// one 1D trace with its own small bracket axis
function spectrum(x0, x1, axisY, from, to, ppm, intensity, color) {
    const pad = 20, top = 272, axisB = 42;
    const canvas = addCanvas(x0 - pad, axisY - top, x1 - x0 + pad * 2, top + axisB);
    new Chart(canvas, {
        type: 'line',
        data: { datasets: [{
            data: ppm.map((p, i) => ({ x: p, y: intensity[i] })),
            borderColor: color, borderWidth: 1.8, pointRadius: 0, tension: 0.25, clip: false
        }] },
        options: {
            responsive: false,
            layout: { padding: { left: pad, right: pad, top: 2, bottom: 0 } },
            scales: {
                x: {
                    type: 'linear', min: to, max: from, reverse: true,
                    afterBuildTicks: s => { s.ticks = [from, (from + to) / 2, to].map(v => ({ value: v })); },
                    afterFit: s => { s.height = axisB; },
                    grid: { drawOnChartArea: false, tickLength: 9, tickColor: INK, tickWidth: 2 },
                    border: { color: INK, width: 2 },
                    ticks: { color: '#111', font: { size: 22, weight: 'bold' }, maxRotation: 0, autoSkip: false, padding: 1, callback: v => String(v) }
                },
                y: { type: 'linear', display: false, min: 0, max: top - 2 }
            }
        }
    });
}

function relativeIntensity() {
    const canvas = addCanvas(780, 350, 358, 340);
    const series = (xs, ys, color) => ({
        data: xs.map((x, i) => ({ x: x, y: ys[i] })),
        borderColor: color, backgroundColor: color, borderWidth: 2.2,
        pointRadius: 3.5, tension: 0.4, clip: false
    });
    new Chart(canvas, {
        type: 'line',
        data: { datasets: [
            series(tslBlue, intBlue, '#5b9bd5'),
            series(tslRed, intRed, '#c5112f'),
            series(tslGray, intGray, '#555555')
        ] },
        options: {
            responsive: false,
            layout: { padding: { top: 16, right: 18, left: 0, bottom: 0 } },
            scales: {
                x: {
                    type: 'linear', min: 0, max: 6,
                    afterBuildTicks: s => { s.ticks = [0, 1, 2, 3, 4, 5, 6].map(v => ({ value: v })); },
                    afterFit: s => { s.height = 38; },
                    grid: { drawOnChartArea: false, tickLength: 6, tickColor: INK, tickWidth: 2 },
                    border: { color: INK, width: 2 },
                    ticks: { color: '#111', font: { size: 22, weight: 'bold' }, maxRotation: 0, autoSkip: false, padding: 0, callback: v => v === 0 ? '' : String(v) }
                },
                y: {
                    type: 'linear', min: 0, max: 1.1,
                    afterBuildTicks: s => { s.ticks = [0, 0.2, 0.4, 0.6, 0.8, 1].map(v => ({ value: v })); },
                    afterFit: s => { s.width = 52; },
                    grid: { drawOnChartArea: false, tickLength: 5, tickColor: INK, tickWidth: 2 },
                    border: { color: INK, width: 2 },
                    ticks: { color: '#111', font: { size: 22, weight: 'bold' }, autoSkip: false, padding: 2, callback: v => v === 0 ? '' : v.toFixed(1) }
                }
            }
        }
    });
}

function strokes(list) {
    const out = [];
    list.forEach(s => {
        out.push({ x: s[0], y: s[1] }, { x: s[2], y: s[3] }, { x: s[2], y: null });
    });
    return out;
}

// second stroke of a double bond, sitting alongside the first one
function doubled(list) {
    return list.map(s => {
        const dx = s[2] - s[0], dy = s[3] - s[1], len = Math.hypot(dx, dy);
        return [s[0] - dy / len * 8, s[1] + dx / len * 8, s[2] - dy / len * 8, s[3] + dx / len * 8];
    });
}

const diagramText = {
    id: 'diagramText',
    afterDatasetsDraw(chart) {
        const ctx = chart.ctx, sx = chart.scales.x, sy = chart.scales.y;
        const put = (list, font, color) => {
            ctx.font = font;
            ctx.fillStyle = color;
            list.forEach(a => ctx.fillText(a[0], sx.getPixelForValue(a[1]), sy.getPixelForValue(a[2])));
        };
        ctx.save();
        ctx.textAlign = 'center';
        ctx.textBaseline = 'middle';
        put(atoms, 'bold 13.5px ' + FONT, '#111');
        put(bases, 'bold 22px ' + FONT, '#000');
        put(redAtoms, 'bold 21px ' + FONT, '#c4142e');
        put(redDigits, 'bold 17px ' + FONT, '#c4142e');
        put(pairNames, 'bold 22px ' + FONT, RED);
        ctx.restore();
    }
};

function basePairs() {
    const canvas = addCanvas(0, 1040, 480, 559);
    const line = (data, color, width, dash) => ({
        data: data, borderColor: color, borderWidth: width, borderDash: dash || [], pointRadius: 0, spanGaps: false
    });
    new Chart(canvas, {
        type: 'line',
        data: { datasets: [
            line(strokes(bonds), '#000', 1.5),
            line(strokes(doubleBonds), '#000', 1.5),
            line(strokes(doubled(doubleBonds)), '#000', 1.5),
            line(strokes(hBonds), '#000', 1.4, [3, 2]),
            line(strokes(redBonds), '#c4142e', 1.8)
        ] },
        options: {
            responsive: false,
            layout: { padding: 0 },
            scales: {
                x: { type: 'linear', display: false, min: 0, max: 1440 },
                y: { type: 'linear', display: false, min: 0, max: 1568, reverse: true }
            }
        },
        plugins: [diagramText]
    });
}

// frames around the lower panels
addBox(2, 722, 1160, 312, '#333');
addBox(7, 1047, 462, 570, '#aaa');
addBox(481, 1047, 680, 321, '#aaa');
addBox(479, 1379, 680, 240, '#aaa');

hsqc(14, 11, 308, 304, [contA_GC, contA_UU, contA_UA], leadersA, null, [arcsA_GC, arcsA_UA]);
hsqc(395, 11, 689, 304, [contB_UU], leadersB);
hsqc(767, 11, 1061, 304, [contC_UU, contC_UA], leadersC);
hsqc(16, 360, 309, 652, [contD_GC, contD_UU, contD_UA], leadersD);
hsqc(397, 360, 689, 652, [contE_GC, contE_UU, contE_UA], leadersE, dashedE);

relativeIntensity();

spectrum(13.8, 156.3, 995.3, 15, 5, g05Ppm, g05Int, TRACE_BLUE);
spectrum(176, 318.4, 995.3, 15, 5, g08Ppm, g08Int, TRACE_BLUE);
spectrum(338.8, 481.3, 995.3, 15, 5, g12Ppm, g12Int, TRACE_BLUE);
spectrum(503.5, 645.5, 995.3, 15, 5, g2Ppm, g2Int, TRACE_BLUE);
spectrum(664.9, 807.9, 995.3, 15, 5, g3Ppm, g3Int, TRACE_BLUE);
spectrum(826, 968.4, 995.3, 15, 5, g4Ppm, g4Int, TRACE_BLUE);
spectrum(996.5, 1140, 995.3, 15, 5, g5Ppm, g5Int, TRACE_BLUE);

spectrum(490.7, 635, 1310, 20, 10, i2Ppm, i2Int, TRACE_RED);
spectrum(656.3, 801, 1310, 20, 10, i3Ppm, i3Int, TRACE_RED);
spectrum(818.5, 963, 1310, 20, 10, i4Ppm, i4Int, TRACE_RED);
spectrum(980, 1124, 1310, 20, 10, i5Ppm, i5Int, TRACE_RED);

spectrum(489.4, 632, 1542.7, 20, 10, j2Ppm, j2Int, TRACE_GRAY);
spectrum(656.3, 799, 1542.7, 20, 10, j3Ppm, j3Int, TRACE_GRAY);
spectrum(817.7, 960.4, 1542.7, 20, 10, j4Ppm, j4Int, TRACE_GRAY);
spectrum(980.7, 1124, 1542.7, 20, 10, j5Ppm, j5Int, TRACE_GRAY);

basePairs();

// labels
const H_TITLE = '<sup>1</sup>H Chemical Shift (ppm)';
const N_TITLE = '<sup>15</sup>N Chemical Shift (ppm)';
const UU = '(U\u25AAU/U\u25AAG)';

function tsl(x, y, rest) {
    addText('t', x, y, 25, '#111', { italic: true });
    addText('SL', x + 10, y + 11, 11, '#111', { italic: true });
    addText(rest, x + 57, y, 24, '#111');
}

[[159, 341], [541, 341], [915, 341], [161, 691], [542, 691], [806, 1585]].forEach(p => addText(H_TITLE, p[0], p[1], 25));
[[371, 155], [751, 155], [1124, 155], [377, 503], [749, 503]].forEach(p => addText(N_TITLE, p[0], p[1], 25, '#111', { rotate: -90 }));

const letters = [['A', 30, 24], ['B', 411, 23], ['C', 779, 23], ['D', 29, 370], ['E', 410, 370], ['F', 779, 370], ['G', 17, 736], ['H', 17, 1063], ['I', 489, 1063], ['J', 491, 1393]];
letters.forEach(p => addText(p[0], p[1], p[2], 15));

addText('hNH', 277, 25, 24);
addText('WaterREXSY', 615, 25, 23);
addText('WaterREXSY', 984, 27, 23);
addText('WaterREXSY', 236, 372, 23);
addText('WaterREXSY', 612, 373, 23);
tsl(594, 53, '=2 ms');
tsl(963, 55, '=3 ms');
tsl(215, 400, '=4 ms');
tsl(592, 403, '=5 ms');

addText('GN1-GH1', 201, 98, 21, GRAY);
addText('(G-C)', 201, 118, 21, GRAY);
addText('UN3-UH3', 107, 151, 21, BLUE);
addText(UU, 104, 178, 21, BLUE);
addText('UN3-UH3', 203, 255, 21, RED);
addText('(U-A)', 201, 281, 21, RED);

addText('UN3-UH3', 525, 164, 21, BLUE);
addText(UU, 523, 193, 21, BLUE);

addText('UN3-UH3', 902, 158, 21, BLUE);
addText(UU, 899, 186, 21, BLUE);
addText('UN3-UH3', 964, 255, 21, RED);
addText('(U-A)', 961, 281, 21, RED);

addText('GN1-GH1', 136, 418, 21, GRAY);
addText('(G-C)', 136, 439, 21, GRAY);
addText('UN3-UH3', 117, 504, 21, BLUE);
addText(UU, 120, 532, 21, BLUE);
addText('UN3-UH3', 185, 613, 21, RED);
addText('(U-A)', 183, 638, 21, RED);

addText('GN1-GH1', 505, 438, 21, GRAY);
addText('(G-C)', 505, 458, 21, GRAY);
addText('UN3-UH3', 526, 496, 21, BLUE);
addText(UU, 528, 523, 21, BLUE);
addText('UN3-UH3', 577, 611, 21, RED);
addText('(U-A)', 573, 635, 21, RED);

addText('U', 888, 387, 21);
addText('non-canonical', 911, 413, 20.5);
addText('A-U', 1018, 461, 20);
addText('G-C', 1018, 576, 20);
addText('Relative Intensity', 779, 500, 23.5, '#111', { rotate: -90 });
addText('t', 958, 690, 25, '#111', { italic: true });
addText('SL', 971, 700, 12, '#111', { italic: true });
addText('(ms)', 1005, 690, 24);

const gTimes = [['0.5 ms', 76], ['0.8 ms', 235], ['1.2 ms', 405], ['2 ms', 566], ['3 ms', 725], ['4 ms', 895], ['5 ms', 1062]];
gTimes.forEach(p => addText(p[0], p[1], 736, 22));
addText('UN3-UH3 ' + UU, 148, 767, 22, BLUE);

const iTimes = [['2 ms', 565, 1058], ['3 ms', 748, 1059], ['4 ms', 917, 1057], ['5 ms', 1079, 1059]];
iTimes.forEach(p => addText(p[0], p[1], p[2], 22));
addText('UN3-UH3 (U-A)', 590, 1088, 22, RED);

const jTimes = [['2 ms', 548, 1392], ['3 ms', 731, 1392], ['4 ms', 917, 1392], ['5 ms', 1089, 1392]];
jTimes.forEach(p => addText(p[0], p[1], p[2], 22));
addText('GN1-GH1 (G-C)', 599, 1423, 22, GRAY);
</script>
</body>
</html>
